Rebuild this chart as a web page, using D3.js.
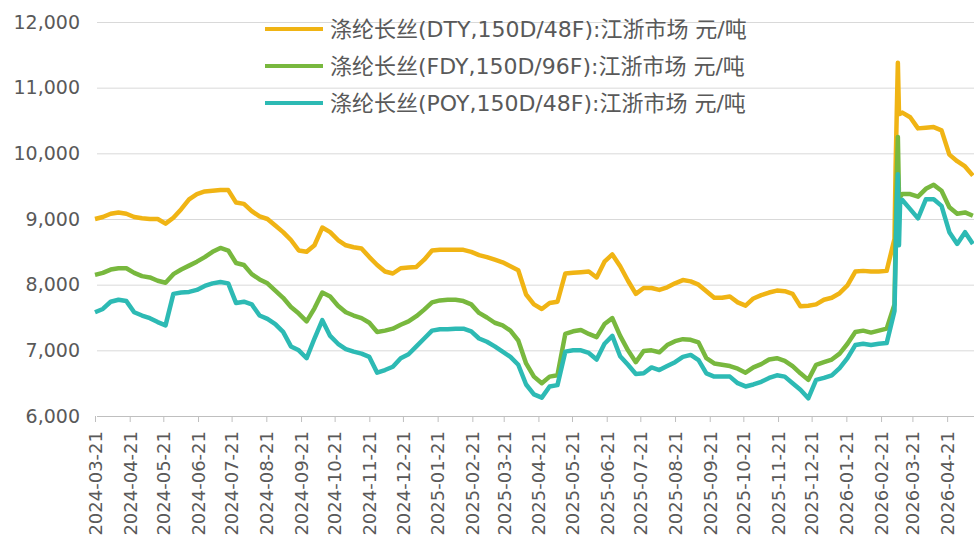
<!DOCTYPE html>
<html>
<head>
<meta charset="utf-8">
<script src="https://cdn.jsdelivr.net/npm/d3@7"></script>
<style>
  html, body { margin: 0; padding: 0; background: #fff; }
  svg text { fill: #595959; }
</style>
</head>
<body>
<svg id="chart" width="974" height="543"></svg>
<script>
// weekly sample dates (plus daily points around the March 2026 spike)
const dates = [
  "2024-03-21","2024-03-28","2024-04-04","2024-04-11","2024-04-18","2024-04-25","2024-05-02","2024-05-09",
  "2024-05-16","2024-05-23","2024-05-30","2024-06-06","2024-06-13","2024-06-20","2024-06-27","2024-07-04",
  "2024-07-11","2024-07-18","2024-07-25","2024-08-01","2024-08-08","2024-08-15","2024-08-22","2024-08-29",
  "2024-09-05","2024-09-12","2024-09-19","2024-09-26","2024-10-03","2024-10-10","2024-10-17","2024-10-24",
  "2024-10-31","2024-11-07","2024-11-14","2024-11-21","2024-11-28","2024-12-05","2024-12-12","2024-12-19",
  "2024-12-26","2025-01-02","2025-01-09","2025-01-16","2025-01-23","2025-01-30","2025-02-06","2025-02-13",
  "2025-02-20","2025-02-27","2025-03-06","2025-03-13","2025-03-20","2025-03-27","2025-04-03","2025-04-10",
  "2025-04-17","2025-04-24","2025-05-01","2025-05-08","2025-05-15","2025-05-22","2025-05-29","2025-06-05",
  "2025-06-12","2025-06-19","2025-06-26","2025-07-03","2025-07-10","2025-07-17","2025-07-24","2025-07-31",
  "2025-08-07","2025-08-14","2025-08-21","2025-08-28","2025-09-04","2025-09-11","2025-09-18","2025-09-25",
  "2025-10-02","2025-10-09","2025-10-16","2025-10-23","2025-10-30","2025-11-06","2025-11-13","2025-11-20",
  "2025-11-27","2025-12-04","2025-12-11","2025-12-18","2025-12-25","2026-01-01","2026-01-08","2026-01-15",
  "2026-01-22","2026-01-29","2026-02-05","2026-02-12","2026-02-19","2026-02-26","2026-03-05","2026-03-06",
  "2026-03-07","2026-03-08","2026-03-09","2026-03-10","2026-03-12","2026-03-19","2026-03-26","2026-04-02",
  "2026-04-09","2026-04-16","2026-04-23","2026-04-30","2026-05-07","2026-05-14"
];

const dty = [
  9000,9030,9080,9100,9080,9030,9010,9000,9000,8930,9020,9150,9300,9380,9420,9430,
  9440,9440,9250,9230,9120,9040,9000,8900,8800,8680,8520,8500,8600,8870,8800,8680,
  8600,8570,8550,8420,8300,8200,8170,8250,8260,8270,8380,8520,8530,8530,8530,8530,
  8500,8450,8420,8380,8340,8280,8220,7850,7700,7630,7720,7740,8170,8180,8190,8200,
  8110,8350,8460,8280,8060,7860,7950,7950,7920,7960,8020,8070,8050,8000,7900,7800,
  7800,7820,7730,7680,7790,7840,7880,7910,7900,7860,7670,7680,7700,7770,7800,7870,
  7990,8200,8210,8200,8200,8210,8700,9800,10600,11380,10620,10600,10620,10550,10380,10390,
  10400,10350,9980,9880,9800,9660
];

const fdy = [
  8150,8180,8230,8250,8250,8180,8130,8110,8060,8030,8160,8230,8290,8350,8420,8500,
  8560,8520,8330,8300,8160,8080,8020,7910,7800,7660,7560,7440,7640,7880,7820,7680,
  7580,7530,7490,7420,7280,7300,7330,7390,7440,7520,7620,7730,7760,7770,7770,7750,
  7700,7570,7500,7420,7380,7300,7150,6800,6600,6500,6600,6620,7250,7290,7310,7250,
  7200,7400,7490,7220,7000,6820,6990,7000,6970,7080,7140,7170,7160,7120,6880,6800,
  6780,6760,6720,6660,6740,6790,6860,6880,6840,6760,6650,6550,6780,6820,6860,6950,
  7100,7280,7300,7270,7300,7330,7700,8700,9600,10250,9350,9340,9380,9380,9340,9460,
  9520,9430,9180,9080,9100,9050
];

const poy = [
  7580,7630,7740,7770,7750,7580,7530,7490,7430,7380,7860,7880,7890,7920,7980,8020,
  8040,8020,7720,7740,7700,7530,7480,7400,7280,7060,7000,6880,7180,7460,7220,7100,
  7020,6980,6950,6900,6660,6700,6750,6880,6940,7060,7180,7300,7320,7320,7330,7330,
  7290,7180,7130,7060,6980,6900,6780,6480,6330,6280,6450,6470,6980,7000,7000,6960,
  6860,7100,7220,6910,6780,6640,6650,6740,6700,6760,6820,6900,6930,6850,6650,6600,
  6600,6600,6500,6450,6480,6520,6580,6620,6600,6500,6400,6270,6550,6580,6620,6730,
  6880,7080,7100,7080,7100,7110,7600,8400,9200,9680,8600,9250,9290,9150,9010,9300,
  9300,9200,8800,8620,8800,8620
];

const seriesNames = [
  "涤纶长丝(DTY,150D/48F):江浙市场 元/吨",
  "涤纶长丝(FDY,150D/96F):江浙市场 元/吨",
  "涤纶长丝(POY,150D/48F):江浙市场 元/吨"
];
const seriesColors = ["#F0B414", "#78B83E", "#2DBAB4"];
const yTicks = [6000, 7000, 8000, 9000, 10000, 11000, 12000];

const parse = d3.timeParse("%Y-%m-%d");
const fmtTick = d3.timeFormat("%Y-%m-%d");

const svg = d3.select("#chart");
const plotLeft = 95, plotRight = 974, plotTop = 22, plotBottom = 416;

const x = d3.scaleTime()
  .domain([parse("2024-03-21"), parse("2026-05-15")])
  .range([plotLeft, plotRight]);
const y = d3.scaleLinear()
  .domain([6000, 12000])
  .range([plotBottom, plotTop]);

// grid
svg.append("g")
  .selectAll("line")
  .data(yTicks.slice(1))
  .enter().append("line")
  .attr("x1", plotLeft + 2).attr("x2", plotRight)
  .attr("y1", d => y(d) + 0.5).attr("y2", d => y(d) + 0.5)
  .attr("stroke", "#d9d9d9").attr("stroke-width", 1);

// y labels
svg.append("g")
  .selectAll("text")
  .data(yTicks)
  .enter().append("text")
  .attr("x", 80)
  .attr("y", d => y(d))
  .attr("dy", "0.35em")
  .attr("text-anchor", "end")
  .style("font-family", "DejaVu Sans, sans-serif")
  .style("font-size", "19px")
  .text(d => d3.format(",")(d));

// x axis, monthly ticks on the 21st
const monthTicks = d3.timeMonth.range(parse("2024-03-01"), parse("2026-05-01"))
  .map(d => new Date(d.getFullYear(), d.getMonth(), 21));

const xAxis = svg.append("g")
  .attr("transform", `translate(0,${plotBottom})`)
  .call(d3.axisBottom(x).tickValues(monthTicks).tickFormat(fmtTick).tickSize(6).tickSizeOuter(0));
xAxis.select(".domain").attr("stroke", "#bfbfbf").attr("d", `M${plotLeft + 2},0.5H${plotRight}`);
xAxis.selectAll(".tick line").attr("stroke", "#bfbfbf");
xAxis.selectAll(".tick text")
  .attr("transform", "rotate(-90)")
  .attr("text-anchor", "end")
  .attr("x", -15)
  .attr("y", 0)
  .attr("dy", "0.35em")
  .style("font-family", "DejaVu Sans, sans-serif")
  .style("font-size", "18px")
  .style("fill", "#595959");

// lines
const allSeries = [dty, fdy, poy];
const line = d3.line()
  .x(d => x(d.date))
  .y(d => y(d.value));

allSeries.forEach((vals, i) => {
  const pts = dates.map((d, j) => ({ date: parse(d), value: vals[j] }));
  svg.append("path")
    .datum(pts)
    .attr("fill", "none")
    .attr("stroke", seriesColors[i])
    .attr("stroke-width", 4.5)
    .attr("stroke-linejoin", "round")
    .attr("d", line);
});

// legend
const legend = svg.append("g");
seriesNames.forEach((name, i) => {
  const cy = 29 + i * 37;
  legend.append("line")
    .attr("x1", 265).attr("x2", 323)
    .attr("y1", cy).attr("y2", cy)
    .attr("stroke", seriesColors[i])
    .attr("stroke-width", 4);
  legend.append("text")
    .attr("x", 330).attr("y", cy)
    .attr("dy", "0.36em")
    .style("font-family", "DejaVu Sans, 'Noto Sans CJK SC', sans-serif")
    .style("font-size", "22px")
    .text(name);
});
</script>
</body>
</html>
